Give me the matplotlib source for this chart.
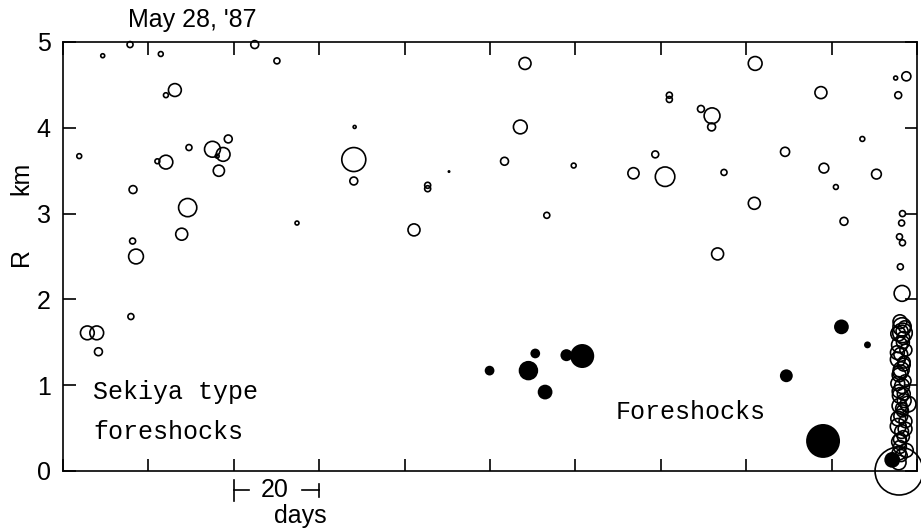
import numpy as np
import matplotlib
matplotlib.use("Agg")
import matplotlib.pyplot as plt

DPI = 100

# ---------------------------------------------------------------------------
# events before the main shock: time (days from start of window),
# distance R from the main shock epicentre (km), magnitude index

# background seismicity (open circles)
bg_day = [15.7, 9.3, 22.9, 44.9, 50.1, 26.2, 24.1, 68.3, 3.8, 29.5,
          38.7, 35.0, 37.5, 36.1, 24.1, 22.1, 36.5, 68.1, 68.1, 16.4,
          29.2, 54.8, 27.8, 16.3, 17.1, 5.7, 7.9, 8.3, 15.9,
          108.2, 162.1, 177.5, 142.0, 142.0, 149.4, 152.0, 151.9, 107.1, 103.4,
          85.4, 85.4, 119.6, 138.7, 133.6, 141.0, 154.8, 169.1, 178.2, 181.0,
          113.3, 161.9, 82.2, 153.3, 197.5, 195.0, 195.6, 187.2, 190.5, 182.9,
          196.6, 196.4, 195.9, 196.6, 196.1, 196.5, 196.5, 196.6]
bg_r = [4.97, 4.84, 4.86, 4.97, 4.78, 4.44, 4.38, 4.01, 3.67, 3.77,
        3.87, 3.75, 3.69, 3.67, 3.60, 3.61, 3.50, 3.63, 3.38, 3.28,
        3.07, 2.89, 2.76, 2.68, 2.50, 1.61, 1.61, 1.39, 1.80,
        4.75, 4.75, 4.41, 4.38, 4.33, 4.22, 4.14, 4.01, 4.01, 3.61,
        3.33, 3.29, 3.56, 3.69, 3.47, 3.43, 3.48, 3.72, 3.53, 3.31,
        2.98, 3.12, 2.81, 2.53, 4.60, 4.58, 4.38, 3.87, 3.46, 2.91,
        3.00, 2.89, 2.73, 2.66, 2.38, 2.07, 1.68, 1.61]
bg_mag = [2.0, 1.4, 1.7, 2.4, 2.0, 3.1, 1.7, 1.0, 1.7, 2.0,
          2.4, 3.4, 3.2, 1.4, 3.2, 1.7, 2.9, 4.0, 2.4, 2.4,
          3.6, 1.4, 3.0, 2.0, 3.3, 3.2, 3.2, 2.4, 2.0,
          3.0, 3.2, 3.0, 2.0, 2.0, 2.2, 3.4, 2.4, 3.2, 2.4,
          2.0, 2.0, 1.7, 2.2, 2.9, 3.7, 2.0, 2.6, 2.7, 1.7,
          2.0, 3.0, 3.0, 3.0, 2.6, 1.4, 2.2, 1.7, 2.7, 2.4,
          2.0, 2.0, 2.0, 2.0, 2.0, 3.4, 3.6, 3.7]

# swarm right before the main shock (open circles)
swarm_day = [196.0, 197.1, 195.6, 196.8, 195.9, 197.4, 196.2, 195.5, 196.9, 196.3,
             195.8, 197.2, 196.5, 195.7, 196.1, 197.0, 195.9, 196.6, 196.2, 197.3,
             195.6, 196.4, 196.8, 195.8, 196.0, 197.5, 196.3, 195.7, 197.9,
             196.7, 195.4, 197.0, 196.1, 195.5, 196.9, 196.4, 195.6, 197.2, 196.0,
             195.8, 196.5]
swarm_r = [1.74, 1.68, 1.60, 1.55, 1.47, 1.41, 1.36, 1.30, 1.24, 1.18,
           1.12, 1.05, 0.99, 0.93, 0.88, 0.82, 0.76, 0.70, 0.64, 0.58,
           0.52, 0.46, 0.40, 0.34, 0.28, 0.24, 0.18, 0.10, 0.78,
           1.50, 1.38, 1.27, 1.15, 1.02, 0.90, 0.73, 0.61, 0.49, 0.37,
           0.21, 1.63]
swarm_mag = [3.2, 3.0, 3.3, 3.1, 3.4, 3.0, 3.2, 3.3, 3.1, 3.4,
             3.2, 3.0, 3.3, 3.1, 3.4, 3.2, 3.3, 3.0, 3.2, 3.1,
             3.4, 3.2, 3.0, 3.3, 3.1, 3.2, 3.0, 3.3, 3.4,
             3.1, 3.2, 3.0, 3.3, 3.2, 3.1, 3.0, 3.3, 3.2, 3.1,
             3.2, 3.0]

# main shock
main_day = [195.8]
main_r = [0.0]
main_mag = [5.0]

# foreshocks (filled)
fs_day = [99.9, 109.0, 110.6, 112.9, 117.9, 121.6, 169.4, 182.3, 178.0, 188.4,
          194.2, 90.4]
fs_r = [1.17, 1.17, 1.37, 0.92, 1.35, 1.34, 1.11, 1.68, 0.35, 1.47,
        0.13, 3.49]
fs_mag = [2.7, 3.7, 2.7, 3.3, 3.0, 4.0, 3.1, 3.3, 4.5, 2.2,
          3.4, 1.0]

x_ticks = np.arange(0, 201, 20)
y_ticks = [0, 1, 2, 3, 4, 5]


def mag_to_area(mag):
    # circle radius doubles per magnitude unit; returns scatter area in pt^2
    rad_px = 1.5 * 2.0 ** (np.asarray(mag) - 1.0)
    diam_pt = 2 * rad_px * 72.0 / DPI
    return diam_pt ** 2


fig = plt.figure(figsize=(9.21, 5.29), dpi=DPI)
ax = fig.add_axes([63 / 921, 58 / 529, 854 / 921, 429 / 529])

open_kw = dict(facecolors="none", edgecolors="black", linewidths=1.2, clip_on=False)
ax.scatter(bg_day, bg_r, s=mag_to_area(bg_mag), zorder=3, **open_kw)
ax.scatter(swarm_day, swarm_r, s=mag_to_area(swarm_mag), zorder=3, **open_kw)
ax.scatter(main_day, main_r, s=mag_to_area(main_mag), zorder=3, **open_kw)
ax.scatter(fs_day, fs_r, s=mag_to_area(fs_mag), c="black", linewidths=0,
           clip_on=False, zorder=4)

ax.set_xlim(0, 200)
ax.set_ylim(0, 5)
ax.set_xticks(x_ticks)
ax.set_xticklabels([])
ax.set_yticks(y_ticks)
ax.tick_params(axis="both", direction="in", length=9, width=1.2,
               top=True, right=True, color="black")
ax.tick_params(axis="y", labelsize=18, pad=9)
for lab in ax.get_yticklabels():
    lab.set_family("Liberation Sans")
for sp in ax.spines.values():
    sp.set_linewidth(1.2)

sans = dict(fontsize=18, family="Liberation Sans", color="black")

# axis label
fig.text(21 / 921, 1 - 257 / 529, "R", rotation=90, ha="center", va="center", **sans)
fig.text(21 / 921, 1 - 178 / 529, "km", rotation=90, ha="center", va="center", **sans)

# date of the main shock
fig.text(128 / 921, 1 - 20 / 529, "May 28, '87", ha="left", va="center", **sans)

# 20-day scale bar under the axis
trans = ax.get_xaxis_transform()
bar = dict(transform=trans, color="black", lw=1.2, clip_on=False)
ax.plot([40, 40], [-0.02, -0.07], **bar)
ax.plot([40, 43.5], [-0.045, -0.045], **bar)
ax.plot([56, 60], [-0.045, -0.045], **bar)
ax.plot([60, 60], [-0.03, -0.06], **bar)
ax.text(49.5, -0.045, "20", transform=trans, ha="center", va="center", **sans)
ax.text(55.5, -0.105, "days", transform=trans, ha="center", va="center", **sans)

# annotations
mono = dict(fontsize=18, family="Liberation Mono", color="black")
ax.text(7.0, 0.92, "Sekiya type", ha="left", va="center", **mono)
ax.text(7.0, 0.45, "foreshocks", ha="left", va="center", **mono)
ax.text(129.5, 0.69, "Foreshocks", ha="left", va="center", **mono)

fig.savefig("out.png", dpi=DPI)
